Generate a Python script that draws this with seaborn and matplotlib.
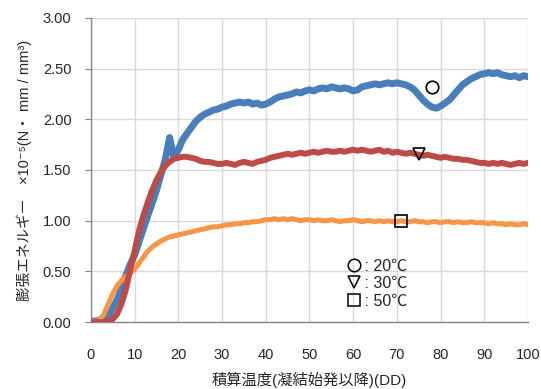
import numpy as np
import pandas as pd
import seaborn as sns
import matplotlib.pyplot as plt
from matplotlib.lines import Line2D

# accumulated temperature (DD)
dd = list(range(0, 101))

# expansion energy, x10^-5 N*mm/mm3
energy_20c = [0.01, 0.01, 0.02, 0.03, 0.06, 0.14, 0.22, 0.33, 0.46, 0.57,
              0.66, 0.79, 0.92, 1.05, 1.17, 1.30, 1.45, 1.60, 1.82, 1.62,
              1.70, 1.80, 1.86, 1.92, 1.98, 2.02, 2.05, 2.07, 2.09, 2.10,
              2.12, 2.13, 2.15, 2.16, 2.17, 2.16, 2.17, 2.15, 2.16, 2.14,
              2.15, 2.17, 2.20, 2.22, 2.23, 2.24, 2.25, 2.27, 2.26, 2.28,
              2.29, 2.28, 2.30, 2.31, 2.30, 2.32, 2.31, 2.30, 2.31, 2.30,
              2.28, 2.29, 2.32, 2.33, 2.34, 2.35, 2.34, 2.35, 2.36, 2.35,
              2.36, 2.35, 2.34, 2.32, 2.29, 2.24, 2.19, 2.15, 2.12, 2.11,
              2.13, 2.16, 2.19, 2.24, 2.29, 2.34, 2.37, 2.40, 2.42, 2.44,
              2.45, 2.46, 2.45, 2.46, 2.44, 2.43, 2.42, 2.43, 2.41, 2.43,
              2.42]
energy_30c = [0.00, 0.00, 0.00, 0.00, 0.01, 0.03, 0.08, 0.18, 0.32, 0.52,
              0.70, 0.90, 1.05, 1.18, 1.30, 1.40, 1.48, 1.54, 1.58, 1.61,
              1.62, 1.63, 1.63, 1.62, 1.61, 1.59, 1.58, 1.58, 1.57, 1.56,
              1.56, 1.57, 1.56, 1.55, 1.57, 1.58, 1.57, 1.56, 1.58, 1.59,
              1.60, 1.62, 1.63, 1.64, 1.65, 1.66, 1.65, 1.66, 1.67, 1.66,
              1.67, 1.68, 1.67, 1.68, 1.69, 1.68, 1.68, 1.69, 1.68, 1.69,
              1.70, 1.69, 1.70, 1.69, 1.68, 1.69, 1.70, 1.68, 1.69, 1.67,
              1.68, 1.67, 1.66, 1.67, 1.66, 1.65, 1.64, 1.65, 1.64, 1.63,
              1.62, 1.63, 1.62, 1.61, 1.61, 1.60, 1.60, 1.59, 1.58, 1.57,
              1.57, 1.56, 1.57, 1.56, 1.57, 1.56, 1.55, 1.56, 1.57, 1.56,
              1.57]
energy_50c = [0.01, 0.01, 0.02, 0.08, 0.18, 0.28, 0.36, 0.41, 0.45, 0.48,
              0.52, 0.58, 0.64, 0.70, 0.74, 0.77, 0.80, 0.82, 0.84, 0.85,
              0.86, 0.87, 0.88, 0.89, 0.90, 0.91, 0.92, 0.93, 0.94, 0.94,
              0.95, 0.96, 0.96, 0.97, 0.97, 0.98, 0.98, 0.99, 0.99, 1.00,
              1.01, 1.01, 1.02, 1.01, 1.02, 1.01, 1.02, 1.01, 1.00, 1.01,
              1.01, 1.00, 1.01, 1.00, 1.00, 1.01, 1.00, 0.99, 1.00, 1.00,
              1.01, 1.00, 0.99, 1.00, 1.00, 0.99, 1.00, 0.99, 1.00, 0.99,
              0.99, 1.00, 0.99, 0.99, 1.00, 0.99, 0.99, 0.98, 0.99, 0.99,
              0.98, 0.99, 0.99, 0.98, 0.99, 0.98, 0.98, 0.99, 0.98, 0.98,
              0.98, 0.97, 0.98, 0.97, 0.97, 0.96, 0.97, 0.96, 0.96, 0.97,
              0.96]

# series marker labels placed on the curves
marker_x = [78, 75, 71]
marker_y = [2.32, 1.66, 1.00]
marker_shape = ['o', 'v', 's']
legend_labels = [' : 20℃', ' : 30℃', ' : 50℃']

df = pd.DataFrame({'dd': dd, '20': energy_20c, '30': energy_30c, '50': energy_50c})

sns.set_style("white")
plt.rcParams['font.family'] = ['Liberation Sans', 'Noto Sans CJK JP', 'DejaVu Sans']

fig = plt.figure(figsize=(5.41, 3.89), dpi=100)
ax = fig.add_axes([0.168, 0.172, 0.808, 0.782])

sns.lineplot(data=df, x='dd', y='20', ax=ax, color='#4a7ebb', linewidth=5.0, zorder=3)
sns.lineplot(data=df, x='dd', y='50', ax=ax, color='#f79646', linewidth=3.6, zorder=4)
sns.lineplot(data=df, x='dd', y='30', ax=ax, color='#be4b48', linewidth=4.3, zorder=5)

for mx, my, ms in zip(marker_x, marker_y, marker_shape):
    ax.plot(mx, my, marker=ms, markersize=9, markerfacecolor='none',
            markeredgecolor='black', markeredgewidth=1.2, zorder=6)

handles = [Line2D([], [], linestyle='none', marker=m, markersize=9,
                  markerfacecolor='none', markeredgecolor='black',
                  markeredgewidth=1.1) for m in marker_shape]
ax.legend(handles, legend_labels, loc='upper left', bbox_to_anchor=(0.565, 0.235),
          frameon=False, handletextpad=-0.1, labelspacing=0.15, fontsize=11.5,
          handlelength=1.0, borderpad=0)

ax.set_xlim(0, 100)
ax.set_ylim(0, 3)
ax.set_xticks(range(0, 101, 10))
ax.set_yticks(np.arange(0, 3.01, 0.5))
ax.set_yticklabels([f'{v:.2f}' for v in np.arange(0, 3.01, 0.5)])
ax.grid(True, color='#d9d9d9', linewidth=1.0)
ax.set_axisbelow(True)
for s in ['top', 'right']:
    ax.spines[s].set_visible(False)
for s in ['left', 'bottom']:
    ax.spines[s].set_color('#868686')
    ax.spines[s].set_linewidth(1.0)
ax.tick_params(axis='x', length=0, pad=19, labelsize=10.5)
ax.tick_params(axis='y', length=4, color='#868686', pad=10, labelsize=10.5, left=True)

ax.set_xlabel('積算温度(凝結始発以降)(DD)', fontsize=11, labelpad=7)
ax.set_ylabel('膨張エネルギー　×10⁻⁵(N・ mm / mm³)', fontsize=10.5, labelpad=8)

fig.savefig('out.png', dpi=100)
